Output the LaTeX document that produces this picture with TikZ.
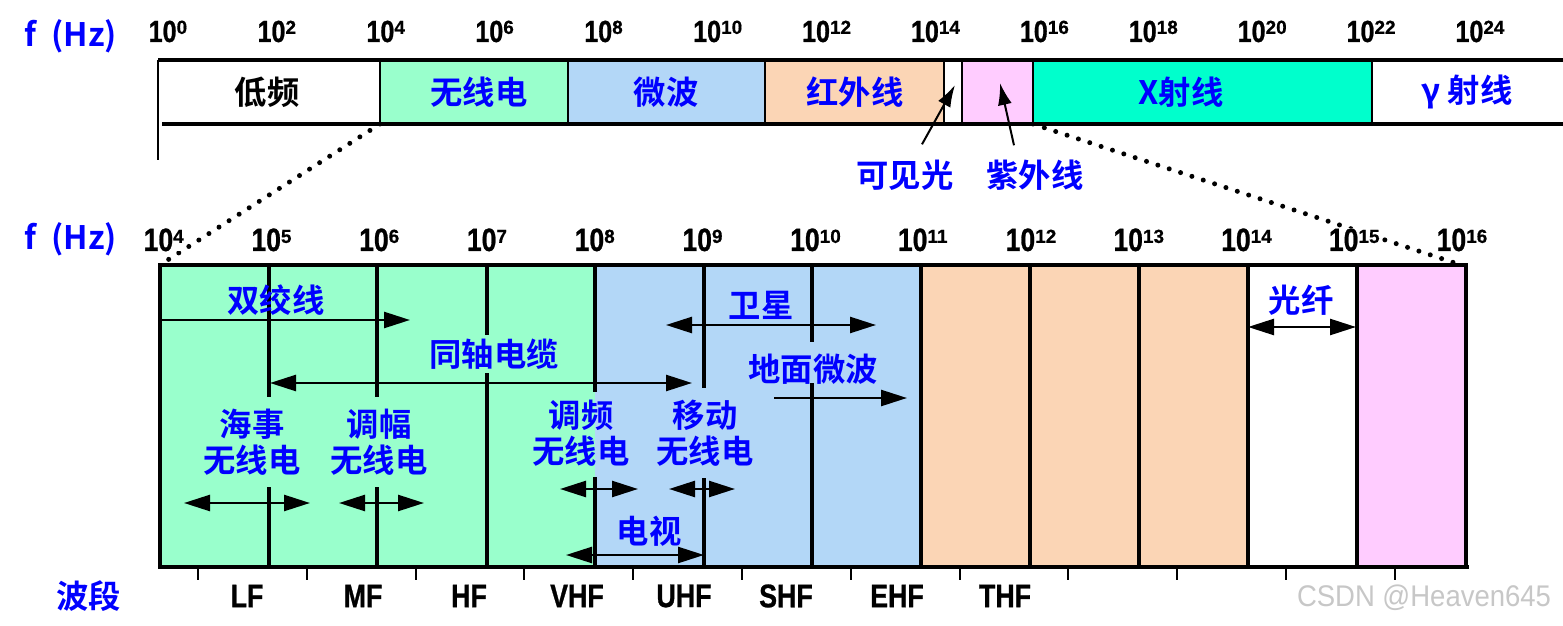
\documentclass[tikz,border=0pt]{standalone}
\usepackage{fontspec}
\newfontfamily\cjk{Noto Sans CJK SC}[BoldFont={* Bold}]
\newfontfamily\narrow{Liberation Sans}[FakeStretch=0.82, BoldFeatures={FakeBold=0.8}]
\newfontfamily\supfont{Liberation Sans}[BoldFeatures={FakeBold=0.5}]
\newfontfamily\wmfont{Liberation Sans}[FakeStretch=0.92]
\usetikzlibrary{arrows.meta}

\definecolor{radioGreen}{HTML}{99FFCC}
\definecolor{microBlue}{HTML}{B3D7F7}
\definecolor{irPeach}{HTML}{FBD5B5}
\definecolor{uvPink}{HTML}{FFCCFF}
\definecolor{xrayCyan}{HTML}{00FFCC}
\definecolor{labelBlue}{HTML}{0000FF}

\newcommand{\tenexp}[1]{10\raisebox{2.3pt}{\supfont\bfseries\fontsize{5.4}{6}\selectfont#1}}

\tikzset{
  cnlabel/.style={font=\cjk\bfseries\fontsize{9.2}{10.3}\selectfont, text=labelBlue, inner sep=0.5pt, align=center},
  powlabel/.style={font=\narrow\bfseries\fontsize{8.7}{10}\selectfont, fill=white, inner sep=0pt, anchor=base west},
  bandlabel/.style={font=\narrow\bfseries\fontsize{9.3}{11}\selectfont},
  rangearrow/.style={line width=0.25mm, {Triangle[length=2.6mm,width=1.6mm]}-{Triangle[length=2.6mm,width=1.6mm]}},
  onearrow/.style={line width=0.25mm, -{Triangle[length=2.6mm,width=1.6mm]}},
  pointer/.style={line width=0.2mm, -{Latex[length=2.2mm,width=1.4mm]}},
  dotline/.style={line width=0.5mm, line cap=round, dash pattern=on 0pt off 3.4pt},
}

\begin{document}
\begin{tikzpicture}[x=0.1mm, y=-0.1mm]
    \fill[white] (0,0) rectangle (1563,626);
    \useasboundingbox (0,0) rectangle (1563,626);

    % Top bar
    \fill[radioGreen] (380,60) rectangle (568,124);
    \fill[microBlue] (568,60) rectangle (765,124);
    \fill[irPeach] (765,60) rectangle (944,124);
    \fill[uvPink] (962,60) rectangle (1033,124);
    \fill[xrayCyan] (1033,60) rectangle (1372,124);
    \draw[line width=0.35mm] (158,60) -- (1563,60);
    \draw[line width=0.35mm] (162,124) -- (1563,124);
    \draw[line width=0.25mm] (158,60) -- (158,160);
    \foreach \x in {380,568,765,944,962,1033,1372}
        \draw[line width=0.25mm] (\x,60) -- (\x,124);

    % Zoom lines
    \draw[dotline] (380,124) -- (163,263);
    \draw[dotline] (1033,124) -- (1455,263);

    % Lower box
    \fill[radioGreen] (160,265) rectangle (595,567);
    \fill[microBlue] (595,265) rectangle (921,567);
    \fill[irPeach] (921,265) rectangle (1248,567);
    \fill[uvPink] (1357,265) rectangle (1466,567);
    \foreach \x/\a/\b in {269/265/397, 269/487/567, 377/265/397, 377/487/567,
        487/265/335, 487/373/567, 595/265/392, 595/477/567, 704/265/388,
        704/478/567, 812/265/342, 812/383/567, 921/265/567, 1030/265/567,
        1139/265/567, 1248/265/567, 1357/265/567}
        \draw[line width=0.4mm] (\x,\a) -- (\x,\b);
    \draw[line width=0.4mm] (160,265) rectangle (1466,567);
    \draw[line width=0.45mm] (160,567) -- (1469,567);
    \foreach \i in {0,...,11}
        \draw[line width=0.2mm] ({198+108.8*\i},567) -- ++(0,13);

    % Frequency labels
    \node[cnlabel] (fTop) at (71,36) {f\ \ (Hz)};
    \node[cnlabel] (fLow) at (71,239) {f\ \ (Hz)};
    \foreach \i in {0,...,12} {
        \pgfmathtruncatemacro\e{2*\i}
        \node[powlabel] (top\e) at ({148+108.9*\i},42) {\tenexp{\e}};
    }
    \foreach \i in {0,...,12} {
        \pgfmathtruncatemacro\e{4+\i}
        \node[powlabel, font=\narrow\bfseries\fontsize{9.2}{10}\selectfont] (low\e) at ({143+107.75*\i},251) {\tenexp{\e}};
    }

    % Spectrum names
    \node[cnlabel, text=black] (lowFreq) at (267,92) {低频};
    \node[cnlabel] (radio) at (479,92) {无线电};
    \node[cnlabel] (micro) at (666,92) {微波};
    \node[cnlabel] (infra) at (855,92) {红外线};
    \node[cnlabel] (xray) at (1181,92) {X射线};
    \node[cnlabel] (gamma) at (1467,92) {γ 射线};
    \node[cnlabel] (visible) at (905,175) {可见光};
    \node[cnlabel] (ultra) at (1035,175) {紫外线};
    \coordinate (visTip) at (955,85);
    \coordinate (uvTip) at (1000,83);
    \draw[pointer] ([xshift=1.7mm,yshift=1.3mm]visible.north) -- (visTip);
    \draw[pointer] ([xshift=-2.1mm,yshift=1.2mm]ultra.north) -- (uvTip);

    % Media and services
    \node[cnlabel] (twisted) at (276,300) {双绞线};
    \node[cnlabel] (coax) at (494,354) {同轴电缆};
    \node[cnlabel] (sat) at (761,305) {卫星};
    \node[cnlabel] (ground) at (813,369) {地面微波};
    \node[cnlabel] (marine) at (252,442) {海事\\无线电};
    \node[cnlabel] (am) at (379,442) {调幅\\无线电};
    \node[cnlabel] (fm) at (581,433) {调频\\无线电};
    \node[cnlabel] (mobile) at (705,433) {移动\\无线电};
    \node[cnlabel] (tv) at (649,531) {电视};
    \node[cnlabel] (fiber) at (1301,300) {光纤};

    % Arrows
    \draw[onearrow] (160,320) -- (410,320);
    \draw[rangearrow] (270,383) -- (692,383);
    \draw[rangearrow] (666,325) -- (876,325);
    \draw[onearrow] (774,398) -- (907,398);
    \draw[rangearrow] (184,503) -- (310,503);
    \draw[rangearrow] (339,503) -- (424,503);
    \draw[rangearrow] (560,489) -- (638,489);
    \draw[rangearrow] (669,489) -- (735,489);
    \draw[rangearrow] (566,555) -- (704,555);
    \draw[rangearrow] (1248,327) -- (1356,327);

    % Bands
    \node[cnlabel] (bandName) at (89,596) {波段};
    \foreach \x/\t in {247/LF, 363/MF, 469/HF, 577/VHF, 684/UHF, 786/SHF, 897/EHF, 1005/THF}
        \node[bandlabel] (band\t) at (\x,596) {\t};
    \node[font=\wmfont\fontsize{8.5}{10}\selectfont, text=black!22] (mark) at (1424,598) {CSDN @Heaven645};
\end{tikzpicture}
\end{document}
